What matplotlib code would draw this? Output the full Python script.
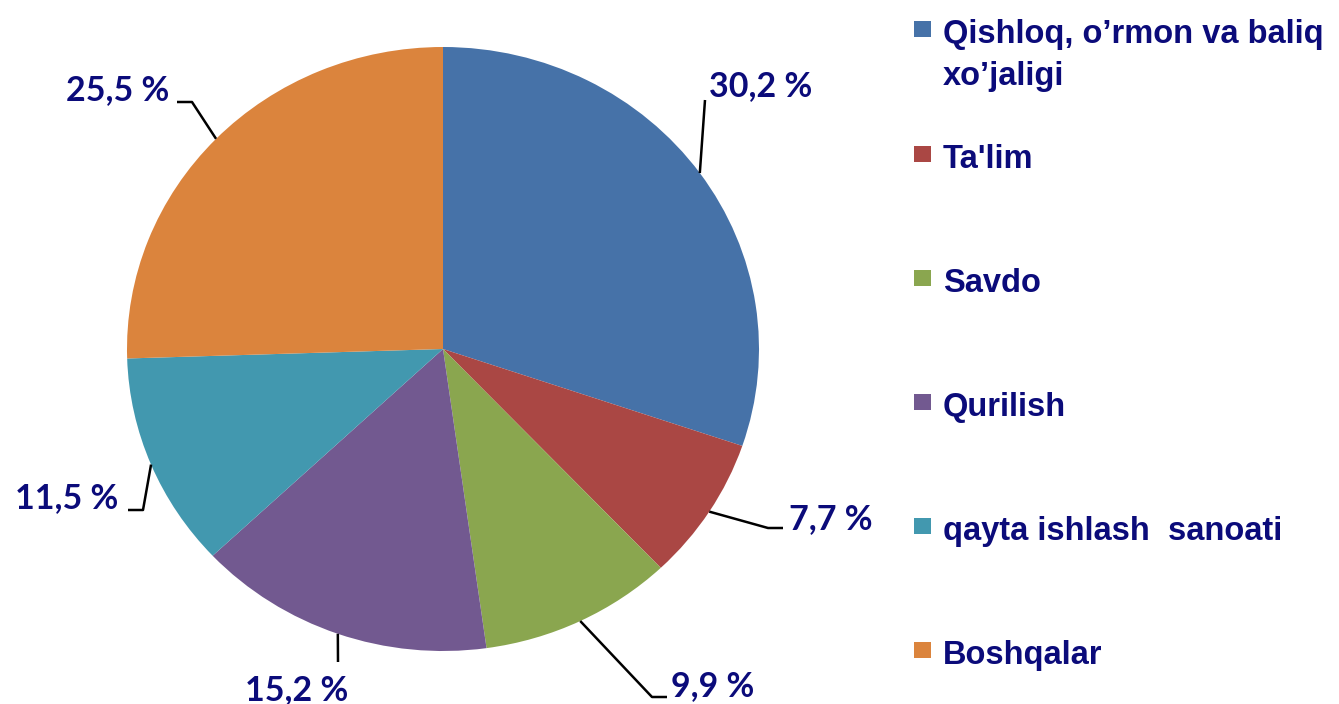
import numpy as np
import matplotlib.pyplot as plt
from matplotlib.patches import Rectangle

# data
categories = ["Qishloq, o\u2019rmon va baliq\nxo\u2019jaligi", "Ta'lim", "Savdo",
              "Qurilish", "qayta ishlash  sanoati", "Boshqalar"]
shares = [30.2, 7.7, 9.9, 15.2, 11.5, 25.5]
colors = ['#4672A8', '#AA4744', '#8AA64F', '#725990', '#4298AF', '#DB843D']

W, H = 1339, 704
TXT = '#0B0B7A'

# pie geometry in pixels (slightly wider than tall, as in the source)
cx, cy, rx, ry = 443, 349, 316, 302

# label layout: elbow point, end of leader, text anchor (pixels) and alignment
label_layout = [
    dict(elbow=None, end=(705, 100), txt=(709, 86), ha='left'),
    dict(elbow=(768, 528), end=(783, 528), txt=(789, 519), ha='left'),
    dict(elbow=(652, 697), end=(667, 697), txt=(671, 686), ha='left'),
    dict(elbow=None, end=(338, 662), txt=(297, 690), ha='center'),
    dict(elbow=(143, 510), end=(128, 510), txt=(118, 498), ha='right'),
    dict(elbow=(192, 102), end=(177, 102), txt=(169, 90), ha='right'),
]


def to_data(px, py):
    return (px - cx) / rx, (cy - py) / ry


fig = plt.figure(figsize=(W / 100, H / 100), dpi=100)
ax = fig.add_axes([0, 0, 1, 1])
wedges, _ = ax.pie(shares, colors=colors, startangle=90, counterclock=False,
                   radius=1, center=(0, 0), wedgeprops=dict(linewidth=0))
ax.set_aspect('auto')
ax.set_xlim(to_data(0, 0)[0], to_data(W, 0)[0])
ax.set_ylim(to_data(0, H)[1], to_data(0, 0)[1])
ax.axis('off')

for w, v, lay in zip(wedges, shares, label_layout):
    mid = np.deg2rad((w.theta1 + w.theta2) / 2)
    xs = [np.cos(mid)]
    ys = [np.sin(mid)]
    for p in (lay['elbow'], lay['end']):
        if p is not None:
            dx, dy = to_data(*p)
            xs.append(dx)
            ys.append(dy)
    ax.plot(xs, ys, color='black', linewidth=1.8, solid_capstyle='butt')
    tx, ty = to_data(*lay['txt'])
    label = f"{v:.1f} %".replace('.', ',')
    ax.text(tx, ty, label, ha=lay['ha'], va='center', fontsize=24.5,
            color=TXT, family='Lato', fontweight='bold')

# legend on the right
leg_x, txt_x = 914, 943
base0 = 168
for i, (cat, col) in enumerate(zip(categories, colors)):
    if i == 0:
        base = 43
    else:
        base = base0 + 124 * (i - 1)
    fig.add_artist(Rectangle(((leg_x) / W, 1 - (base - 6) / H), 17 / W, 16 / H,
                             transform=fig.transFigure, facecolor=col,
                             edgecolor='none'))
    for j, line in enumerate(cat.split('\n')):
        fig.text(txt_x / W, 1 - (base + 42 * j) / H, line, ha='left',
                 va='baseline', fontsize=23.5, color=TXT,
                 family='Liberation Sans', fontweight='bold')

fig.savefig('out.png', dpi=100)
